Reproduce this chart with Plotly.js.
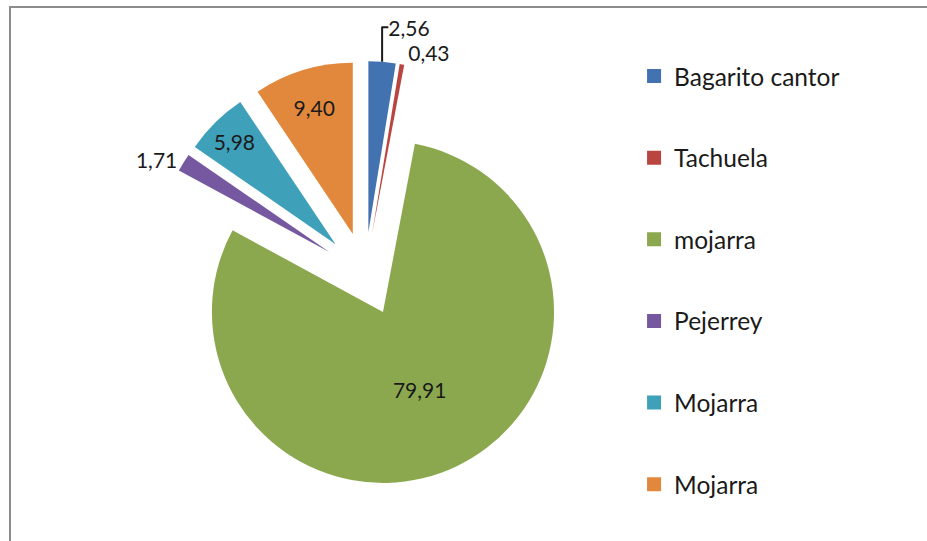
<!DOCTYPE html>
<html>
<head>
<meta charset="utf-8">
<script src="https://cdn.plot.ly/plotly-3.0.1.min.js"></script>
<style>
  html, body { margin: 0; padding: 0; background: #fff; overflow: hidden; }
  #chart { width: 927px; height: 541px; }
  #frame { position: absolute; left: 9px; top: 6px; width: 1000px; height: 600px;
           border-left: 2px solid #8c8c8c; border-top: 2px solid #8c8c8c; pointer-events: none; }
</style>
</head>
<body>
<div id="chart"></div>
<div id="frame"></div>
<script>
const categories = ["Bagarito cantor", "Tachuela", "mojarra", "Pejerrey", "Mojarra", "Mojarra "];
const values = [2.56, 0.43, 79.91, 1.71, 5.98, 9.40];
const valueLabels = ["2,56", "0,43", "79,91", "1,71", "5,98", "9,40"];
const colors = ["#4272B0", "#BA4540", "#8BA84F", "#7558A0", "#3FA0BA", "#E2883C"];
const labelPositions = ["outside", "outside", "inside", "outside", "inside", "inside"];

const font = "Lato, 'Open Sans', sans-serif";

const traces = [{
  type: "pie",
  labels: categories,
  values: values,
  text: valueLabels,
  textinfo: "text",
  textposition: labelPositions,
  insidetextorientation: "horizontal",
  sort: false,
  direction: "clockwise",
  rotation: 0,
  pull: values.map(() => 0.245),
  marker: { colors: colors, line: { width: 0 } },
  textfont: { family: font, size: 21, color: "#1a1a1a" },
  insidetextfont: { family: font, size: 21, color: "#1a1a1a" },
  outsidetextfont: { family: font, size: 21, color: "#1a1a1a" },
  showlegend: false,
  hoverinfo: "label+value",
  domain: { x: [0.1640, 0.6235], y: [0.0998, 0.8872] }
}];

categories.forEach((c, i) => {
  traces.push({
    type: "scatter",
    x: [null], y: [null],
    mode: "markers",
    name: c,
    legendgroup: "g" + i,
    marker: { symbol: "square", size: 14, color: colors[i] },
    showlegend: true,
    hoverinfo: "skip"
  });
});

const layout = {
  width: 927, height: 541,
  margin: { l: 0, r: 0, t: 0, b: 0 },
  paper_bgcolor: "#ffffff",
  plot_bgcolor: "#ffffff",
  xaxis: { visible: false },
  yaxis: { visible: false },
  showlegend: true,
  legend: {
    x: 0.684, xanchor: "left",
    y: 0.901, yanchor: "top",
    font: { family: font, size: 24.5, color: "#1a1a1a" },
    tracegroupgap: 46.8,
    itemclick: false, itemdoubleclick: false
  }
};

Plotly.newPlot("chart", traces, layout, { displayModeBar: false, staticPlot: true });
</script>
</body>
</html>
